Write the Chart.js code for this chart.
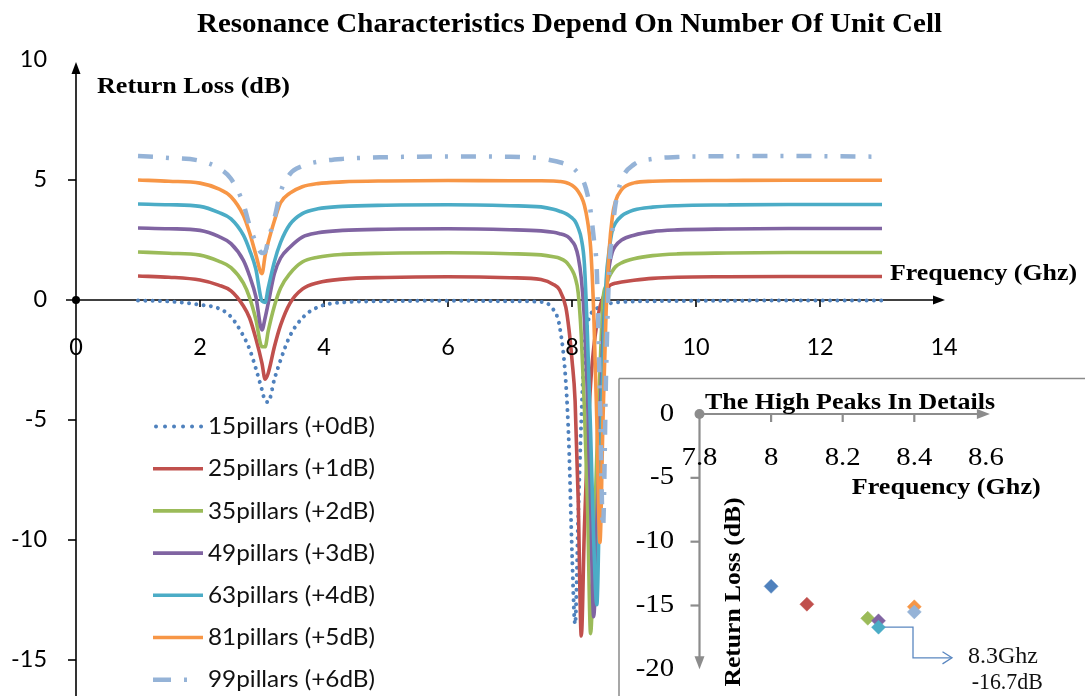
<!DOCTYPE html>
<html>
<head>
<meta charset="utf-8">
<script src="https://cdn.jsdelivr.net/npm/chart.js@4.4.1/dist/chart.umd.min.js"></script>
<style>
html,body{margin:0;padding:0;background:#fff;overflow:hidden;}
#wrap{position:relative;width:1085px;height:696px;}
#main{position:absolute;left:0;top:0;}
#inset{position:absolute;left:618px;top:377px;}
</style>
</head>
<body>
<div id="wrap">
<canvas id="main" width="1085" height="696"></canvas>
<canvas id="inset" width="467" height="319"></canvas>
</div>
<script>
// ---------------- DATA ----------------
const freq = [1, 1.5, 2, 2.3, 2.5, 2.7, 2.8, 2.9, 3.0, 3.05, 3.1, 3.2, 3.3, 3.45, 3.65, 3.9, 4.3, 5, 6, 7,
  7.5, 7.7, 7.8, 7.9, 7.95, 8.0, 8.05, 8.1, 8.15, 8.2, 8.25, 8.3, 8.35, 8.4, 8.45, 8.5, 8.55, 8.6, 8.65, 8.7, 8.8, 9.0, 9.3, 9.7, 10.5, 11.5, 13];

const rl15 = [-0.02, -0.06, -0.2, -0.35, -0.7, -1.5, -2.05, -2.85, -3.75, -4.2, -4.25, -3.3, -2.5, -1.5, -0.75, -0.3, -0.1, -0.05, -0.03, -0.05,
  -0.08, -0.4, -1.1, -3.4, -6.0, -10.5, -13.5, -9.0, -5.0, -2.0, -1.0, -0.6, -0.45, -0.35, -0.3, -0.25, -0.2, -0.15, -0.12, -0.1, -0.08, -0.06, -0.05, -0.04, -0.03, -0.02, -0.02];

const rl25 = [1.0, 0.95, 0.83, 0.62, 0.38, -0.25, -0.75, -1.6, -2.64, -3.3, -3.05, -1.95, -1.05, -0.14, 0.45, 0.72, 0.87, 0.94, 0.97, 0.93,
  0.85, 0.65, 0.42, -0.3, -1.2, -2.5, -4.2, -8.3, -14.0, -9.5, -6.0, -3.5, -2.0, -1.0, -0.3, 0.1, 0.35, 0.58, 0.66, 0.7, 0.75, 0.82, 0.9, 0.95, 0.97, 0.98, 0.98];

const rl35 = [2.0, 1.95, 1.87, 1.62, 1.35, 0.7, 0.1, -0.8, -1.95, -1.95, -1.3, -0.25, 0.5, 1.1, 1.58, 1.78, 1.9, 1.95, 1.97, 1.93,
  1.88, 1.8, 1.74, 1.6, 1.45, 1.25, 0.95, 0.3, -1.5, -4.5, -8.5, -13.9, -10.5, -6.5, -3.0, 0.0, 0.6, 0.97, 1.2, 1.38, 1.55, 1.72, 1.85, 1.92, 1.96, 1.98, 1.98];

const rl49 = [3.0, 2.97, 2.9, 2.65, 2.35, 1.65, 1.0, 0.15, -1.25, -0.75, -0.14, 1.1, 1.75, 2.2, 2.62, 2.8, 2.9, 2.95, 2.97, 2.93,
  2.88, 2.82, 2.76, 2.68, 2.6, 2.45, 2.25, 1.8, 0.9, -0.8, -4.0, -8.5, -13.2, -9.5, -5.0, -1.5, 0.3, 1.4, 2.0, 2.25, 2.5, 2.7, 2.85, 2.92, 2.96, 2.98, 2.98];

const rl63 = [4.0, 3.97, 3.9, 3.65, 3.38, 2.7, 2.08, 1.3, -0.05, -0.1, 0.5, 1.6, 2.4, 3.15, 3.6, 3.8, 3.9, 3.95, 3.97, 3.93,
  3.88, 3.78, 3.7, 3.6, 3.52, 3.42, 3.28, 3.0, 2.55, 1.5, -1.5, -5.5, -10.0, -12.7, -7.5, -2.5, 0.8, 2.08, 2.9, 3.2, 3.5, 3.75, 3.87, 3.93, 3.96, 3.98, 3.98];

const rl81 = [5.0, 4.95, 4.87, 4.63, 4.3, 3.52, 2.8, 1.9, 1.1, 1.85, 2.4, 3.3, 4.05, 4.45, 4.72, 4.85, 4.92, 4.96, 4.98, 4.97,
  4.97, 4.96, 4.94, 4.9, 4.85, 4.78, 4.68, 4.52, 4.3, 3.95, 3.3, 2.2, -0.5, -5.0, -10.1, -5.0, -0.5, 2.08, 3.45, 4.1, 4.6, 4.88, 4.95, 4.97, 4.98, 4.99, 4.99];

const rl99 = [6.0, 5.92, 5.8, 5.5, 5.05, 4.0, 3.1, 2.4, 1.96, 2.0, 2.5, 3.4, 4.5, 5.25, 5.58, 5.76, 5.88, 5.95, 5.98, 5.97,
  5.9, 5.8, 5.74, 5.66, 5.6, 5.53, 5.42, 5.28, 5.1, 4.85, 4.4, 3.7, 2.6, 1.2, -4.0, -9.5, -3.0, 1.2, 2.8, 3.95, 5.0, 5.65, 5.88, 5.96, 5.99, 6.0, 5.97];

const seriesNames = ['15pillars (+0dB)', '25pillars (+1dB)', '35pillars (+2dB)', '49pillars (+3dB)',
  '63pillars (+4dB)', '81pillars (+5dB)', '99pillars (+6dB)'];
const seriesColors = ['#4F81BD', '#C0504D', '#9BBB59', '#8064A2', '#4BACC6', '#F79646', '#95B3D7'];

const mainXTicks = [0, 2, 4, 6, 8, 10, 12, 14];
const mainYTicks = [10, 5, 0, -5, -10, -15];

// inset: resonance peak of each series (raw, without offset)
const peakFreq = [8.0, 8.1, 8.27, 8.3, 8.3, 8.4, 8.4];
const peakLoss = [-13.5, -14.9, -16.0, -16.2, -16.7, -15.1, -15.5];
const insetXTicks = [7.8, 8, 8.2, 8.4, 8.6];
const insetYTicks = [0, -5, -10, -15, -20];
const annotFreq = 8.3, annotLoss = -16.7;
const annotLines = ['8.3Ghz', '-16.7dB'];

// ---------------- HELPERS ----------------
const SERIF = '"Liberation Serif", "Times New Roman", serif';
const SANS = 'Lato, "Open Sans", sans-serif';

function txt(ctx, s, x, y, font, o) {
  o = o || {};
  ctx.save();
  ctx.font = font;
  ctx.fillStyle = o.color || '#000';
  ctx.textAlign = o.align || 'left';
  ctx.textBaseline = o.baseline || 'alphabetic';
  let sx = o.sx || 1;
  if (o.width) sx = o.width / ctx.measureText(s).width;
  ctx.translate(x, y);
  if (o.rot) ctx.rotate(o.rot);
  ctx.scale(sx, 1);
  ctx.fillText(s, 0, 0);
  ctx.restore();
}
function line(ctx, x1, y1, x2, y2) {
  ctx.beginPath(); ctx.moveTo(x1, y1); ctx.lineTo(x2, y2); ctx.stroke();
}
function tri(ctx, pts) {
  ctx.beginPath(); ctx.moveTo(pts[0], pts[1]); ctx.lineTo(pts[2], pts[3]); ctx.lineTo(pts[4], pts[5]); ctx.closePath(); ctx.fill();
}

const dashes = [[0.01, 7.3], [], [], [], [], [], [15, 13, 3, 13]];
const legendDashes = [[0.01, 9], [], [], [], [], [], [18, 13, 3, 200]];
const widths = [4, 3.6, 3.6, 3.6, 3.6, 3.6, 4.5];

// ---------------- MAIN CHART ----------------
const mainDecor = {
  id: 'mainDecor',
  beforeDraw(chart) {
    const c = chart.ctx;
    c.save(); c.fillStyle = '#fff'; c.fillRect(0, 0, chart.width, chart.height); c.restore();
  },
  beforeDatasetsDraw(chart) {
    const c = chart.ctx, xs = chart.scales.x, ys = chart.scales.y;
    const x0 = xs.getPixelForValue(0), y0 = ys.getPixelForValue(0);
    const xTip = xs.getPixelForValue(14) + 1, yTip = ys.getPixelForValue(10) + 2;
    c.save();
    c.strokeStyle = '#000'; c.fillStyle = '#000'; c.lineWidth = 1.6;
    line(c, 66, y0, xTip - 8, y0);
    tri(c, [xTip, y0, xTip - 12, y0 - 4.5, xTip - 12, y0 + 4.5]);
    line(c, x0, chart.height, x0, yTip + 8);
    tri(c, [x0, yTip, x0 - 4.5, yTip + 12, x0 + 4.5, yTip + 12]);
    mainXTicks.forEach(v => { if (v !== 0 && v !== 14) { const p = xs.getPixelForValue(v); line(c, p, y0, p, y0 + 7); } });
    mainYTicks.forEach(v => { if (v !== 0 && v !== 10) { const p = ys.getPixelForValue(v); line(c, x0 - 8, p, x0, p); } });
    c.beginPath(); c.arc(x0, y0, 4, 0, Math.PI * 2); c.fill();
    c.restore();
  },
  afterDatasetsDraw(chart) {
    const c = chart.ctx, xs = chart.scales.x, ys = chart.scales.y;
    const y0 = ys.getPixelForValue(0);
    // tick labels
    mainXTicks.forEach(v => txt(c, String(v), xs.getPixelForValue(v), y0 + 48, '23px ' + SANS, {align: 'center', baseline: 'middle', sx: 1.02, color: '#000'}));
    mainYTicks.forEach(v => txt(c, String(v), 47, ys.getPixelForValue(v), '23px ' + SANS, {align: 'right', baseline: 'middle', sx: 1.02, color: '#000'}));
    // titles
    txt(c, 'Resonance Characteristics Depend On Number Of Unit Cell', 197, 32, 'bold 27px ' + SERIF, {width: 745});
    txt(c, 'Return Loss (dB)', 97, 93, 'bold 24px ' + SERIF, {width: 193});
    txt(c, 'Frequency (Ghz)', 890, 280, 'bold 24px ' + SERIF, {width: 187});
    // legend
    seriesNames.forEach((name, i) => {
      const y = 426.5 + 42.2 * i;
      c.save();
      c.strokeStyle = seriesColors[i];
      c.lineWidth = widths[i];
      c.setLineDash(legendDashes[i]);
      c.lineCap = i === 0 ? 'round' : 'butt';
      line(c, i === 0 ? 156 : 153, y, 203, y);
      c.restore();
      txt(c, name, 208, y, '24px ' + SANS, {baseline: 'middle', width: 167, color: '#111'});
    });
  }
};

const seriesValues = [rl15, rl25, rl35, rl49, rl63, rl81, rl99];
const mainDatasets = seriesValues.map((vals, i) => ({
  label: seriesNames[i],
  data: freq.map((f, j) => ({x: f, y: vals[j]})),
  borderColor: seriesColors[i],
  backgroundColor: seriesColors[i],
  borderWidth: widths[i],
  borderDash: dashes[i],
  borderCapStyle: i === 0 ? 'round' : 'butt',
  borderJoinStyle: 'round',
  pointRadius: 0,
  showLine: true,
  fill: false,
  cubicInterpolationMode: 'monotone',
  order: 6 - i
}));

new Chart(document.getElementById('main'), {
  type: 'scatter',
  data: {datasets: mainDatasets},
  options: {
    responsive: false, animation: false, devicePixelRatio: 1, events: [],
    layout: {padding: {left: 76, right: 17, top: 60, bottom: 0}},
    scales: {
      x: {type: 'linear', min: 0, max: 16, display: false},
      y: {type: 'linear', min: -16.5, max: 10, display: false}
    },
    plugins: {legend: {display: false}, tooltip: {enabled: false}, title: {display: false}}
  },
  plugins: [mainDecor]
});

// ---------------- INSET CHART ----------------
const insetDecor = {
  id: 'insetDecor',
  beforeDraw(chart) {
    const c = chart.ctx;
    c.save(); c.fillStyle = '#fff'; c.fillRect(0, 0, chart.width, chart.height);
    c.strokeStyle = '#8a8a8a'; c.lineWidth = 1.5;
    line(c, 1, 1.5, chart.width, 1.5);
    line(c, 1, 1.5, 1, chart.height);
    c.restore();
  },
  beforeDatasetsDraw(chart) {
    const c = chart.ctx, xs = chart.scales.x, ys = chart.scales.y;
    const x0 = xs.getPixelForValue(7.8), y0 = ys.getPixelForValue(0);
    const xTip = xs.getPixelForValue(8.6) + 4, yTip = ys.getPixelForValue(-20);
    c.save();
    c.strokeStyle = '#8c8c8c'; c.fillStyle = '#8c8c8c'; c.lineWidth = 2.2;
    line(c, x0, y0, xTip - 9, y0);
    tri(c, [xTip, y0, xTip - 13, y0 - 5, xTip - 13, y0 + 5]);
    line(c, x0, y0, x0, yTip - 9);
    tri(c, [x0, yTip, x0 - 5, yTip - 13, x0 + 5, yTip - 13]);
    [8, 8.2, 8.4].forEach(v => { const p = xs.getPixelForValue(v); line(c, p, y0, p, y0 + 8); });
    [-5, -10, -15].forEach(v => { const p = ys.getPixelForValue(v); line(c, x0 - 9, p, x0, p); });
    c.beginPath(); c.arc(x0, y0, 5, 0, Math.PI * 2); c.fill();
    c.restore();
    // annotation connector
    const ax = xs.getPixelForValue(annotFreq), ay = ys.getPixelForValue(annotLoss);
    c.save();
    c.strokeStyle = '#5A87C0'; c.lineWidth = 1.3;
    c.beginPath();
    c.moveTo(ax, ay); c.lineTo(ax + 34.5, ay); c.lineTo(ax + 34.5, ay + 30.6); c.lineTo(ax + 73, ay + 30.6);
    c.stroke();
    c.beginPath();
    c.moveTo(ax + 64, ay + 24.5); c.lineTo(ax + 73.5, ay + 30.6); c.lineTo(ax + 64, ay + 36.7);
    c.stroke();
    c.restore();
  },
  afterDatasetsDraw(chart) {
    const c = chart.ctx, xs = chart.scales.x, ys = chart.scales.y;
    const x0 = xs.getPixelForValue(7.8), y0 = ys.getPixelForValue(0);
    insetXTicks.forEach(v => txt(c, String(v), xs.getPixelForValue(v), y0 + 44, '25px ' + SERIF, {align: 'center', baseline: 'middle', sx: 1.15, color: '#000'}));
    insetYTicks.forEach(v => txt(c, String(v), x0 - 25.5, ys.getPixelForValue(v), '25px ' + SERIF, {align: 'right', baseline: 'middle', sx: 1.15, color: '#000'}));
    txt(c, 'The High Peaks In Details', 87, 32, 'bold 24px ' + SERIF, {width: 290});
    txt(c, 'Frequency (Ghz)', 233.7, 117, 'bold 24px ' + SERIF, {width: 189});
    txt(c, 'Return Loss (dB)', 122, 215, 'bold 24px ' + SERIF, {align: 'center', width: 189, rot: -Math.PI / 2});
    txt(c, annotLines[0], 350, 279.7, '23px ' + SERIF, {baseline: 'middle', width: 70, color: '#111'});
    txt(c, annotLines[1], 353.7, 306, '23px ' + SERIF, {baseline: 'middle', width: 71, color: '#111'});
  }
};

new Chart(document.getElementById('inset'), {
  type: 'scatter',
  data: {datasets: [{
    label: 'Peaks',
    data: peakFreq.map((f, i) => ({x: f, y: peakLoss[i]})),
    pointStyle: 'rectRot',
    pointRadius: 7,
    pointBackgroundColor: seriesColors,
    pointBorderColor: seriesColors,
    pointBorderWidth: 0.5
  }]},
  options: {
    responsive: false, animation: false, devicePixelRatio: 1, events: [],
    layout: {padding: {left: 81.5, right: 27.5, top: 37, bottom: 2.5}},
    scales: {
      x: {type: 'linear', min: 7.8, max: 8.8, display: false},
      y: {type: 'linear', min: -21.5, max: 0, display: false}
    },
    plugins: {legend: {display: false}, tooltip: {enabled: false}, title: {display: false}}
  },
  plugins: [insetDecor]
});
</script>
</body>
</html>
